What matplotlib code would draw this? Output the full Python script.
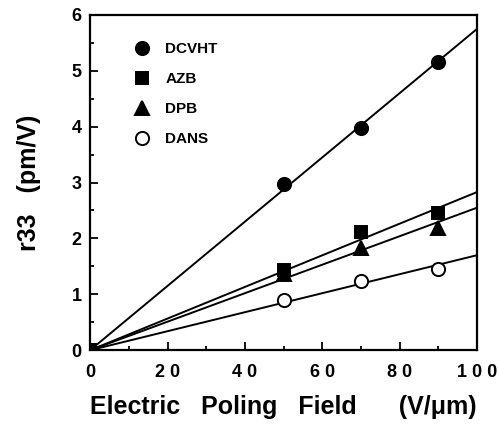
import numpy as np
import matplotlib.pyplot as plt
from matplotlib.ticker import MultipleLocator

plt.rcParams['font.family'] = ['Liberation Sans', 'DejaVu Sans']
plt.rcParams['font.weight'] = 'bold'

# poling field (V/um) and r33 (pm/V)
field = [0, 50, 70, 90]
names = ['DCVHT', 'AZB', 'DPB', 'DANS']
r33_dcvht = [0, 2.97, 3.98, 5.15]
r33_azb = [0, 1.44, 2.11, 2.46]
r33_dpb = [0, 1.36, 1.83, 2.18]
r33_dans = [0, 0.90, 1.24, 1.45]
# slopes of the fitted lines through the origin
slopes = [0.0575, 0.0283, 0.0255, 0.0170]

series = [r33_dcvht, r33_azb, r33_dpb, r33_dans]
markers = ['o', 's', '^', 'o']
faces = ['black', 'black', 'black', 'white']
msizes = [9.5, 8.5, 9.5, 9.5]
# open circles go under the filled ones so the origin looks solid
zorders = [4, 4, 4, 3]

fig = plt.figure(figsize=(4.98, 4.25), dpi=100)
ax = fig.add_axes([0.181, 0.176, 0.777, 0.789])

xfit = np.array([0, 100])
for vals, k in zip(series, slopes):
    ax.plot(xfit, k * xfit, color='black', lw=1.4, zorder=2)

handles = []
for vals, m, fc, ms, nm, z in zip(series, markers, faces, msizes, names, zorders):
    h, = ax.plot(field, vals, linestyle='none', marker=m, ms=ms,
                 mfc=fc, mec='black', mew=1.4, label=nm, zorder=z)
    handles.append(h)

ax.set_xlim(0, 100)
ax.set_ylim(0, 6)
ax.xaxis.set_minor_locator(MultipleLocator(10))
ax.yaxis.set_major_locator(MultipleLocator(1))
ax.yaxis.set_minor_locator(MultipleLocator(0.5))
ax.set_xticks([0, 20, 40, 60, 80, 100])
ax.set_xticklabels(['0', '2 0', '4 0', '6 0', '8 0', '1 0 0'])
ax.tick_params(which='both', direction='in', top=False, right=False,
               labelsize=13, width=1.3)
ax.tick_params(which='major', length=6, pad=6)
ax.tick_params(axis='x', which='major', pad=10)
ax.tick_params(which='minor', length=3)
for lab in ax.get_xticklabels() + ax.get_yticklabels():
    lab.set_fontweight('bold')
for s in ax.spines.values():
    s.set_linewidth(1.6)

ax.set_xlabel('Electric   Poling   Field      (V/\u03bcm)', fontsize=18,
              fontweight='bold', labelpad=10)
ax.set_ylabel('r33   (pm/V)', fontsize=18, fontweight='bold', labelpad=22)

leg = ax.legend(handles=handles, loc='upper left', frameon=False,
                bbox_to_anchor=(0.08, 0.96), handlelength=1,
                handletextpad=1.0, labelspacing=1.05,
                prop={'weight': 'bold', 'size': 11})

fig.savefig('out.png', dpi=100)
